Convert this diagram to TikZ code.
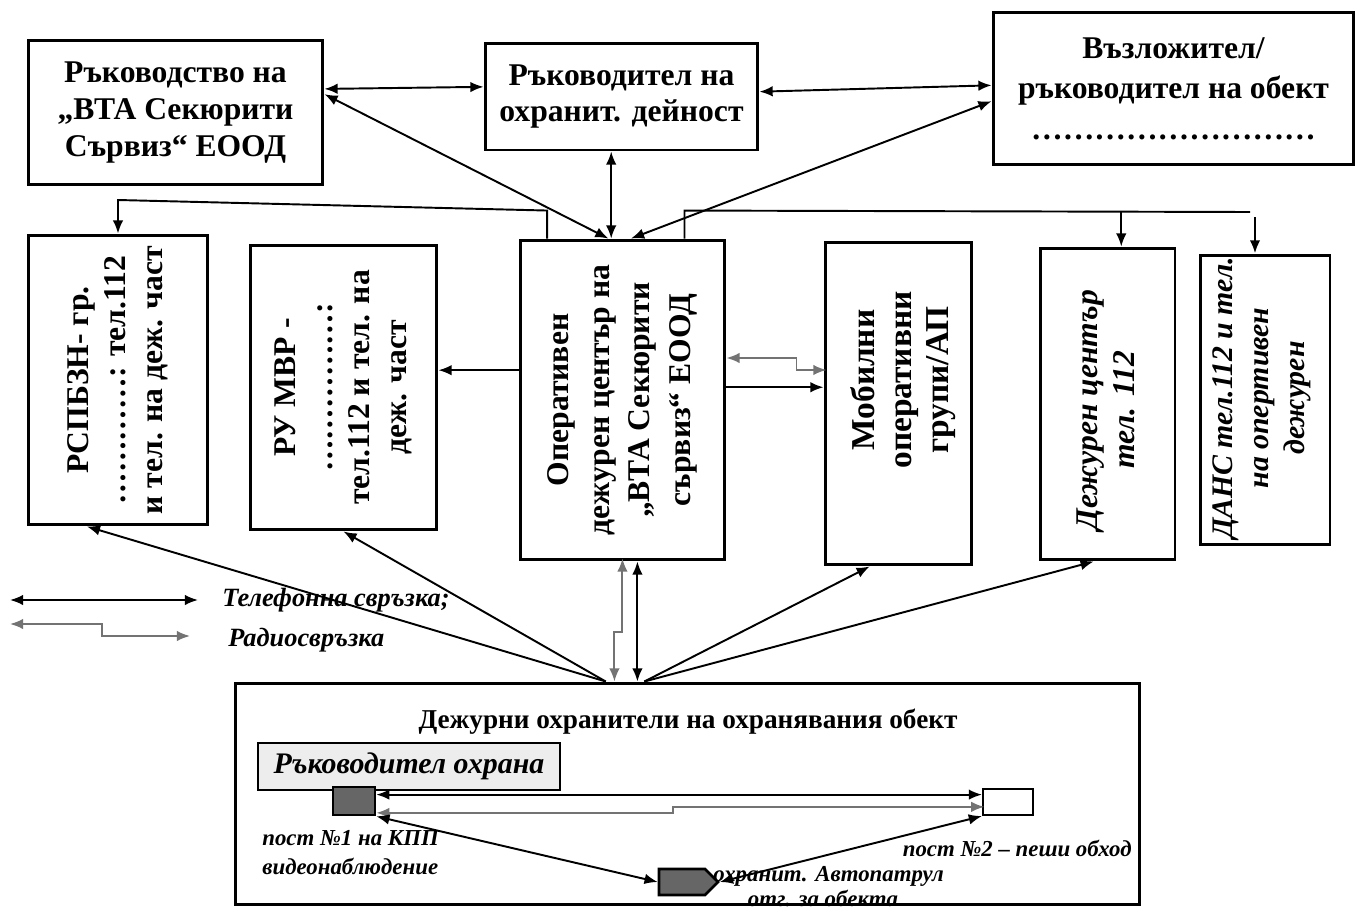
\documentclass[tikz,border=0pt]{standalone}
\usepackage{fontspec}
\setmainfont{Liberation Serif}
\usetikzlibrary{arrows.meta,shapes.symbols}
\tikzset{
  box/.style={draw=black,line width=1.7pt,inner sep=0pt,align=center},
  ttl/.style={font=\fontsize{18}{21}\selectfont\bfseries,align=center},
  ittl/.style={font=\fontsize{18}{21}\selectfont\bfseries\itshape,align=center},
  lgd/.style={font=\fontsize{15}{17}\selectfont\bfseries\itshape,inner sep=0pt},
  lbl/.style={font=\fontsize{13}{15}\selectfont\bfseries\itshape,inner sep=0pt},
  tel/.style={black,line width=1.1pt,{Latex[length=7.5pt,width=6pt]}-{Latex[length=7.5pt,width=6pt]}},
  tel1/.style={black,line width=1.1pt,-{Latex[length=7.5pt,width=6pt]}},
  radio/.style={black!55,line width=1.1pt,{Latex[length=7.5pt,width=6pt]}-{Latex[length=7.5pt,width=6pt]}}
}
\begin{document}
\begin{tikzpicture}[x=0.02cm,y=-0.02cm]
  \useasboundingbox (0,0) rectangle (1357,920);
  % top row
  \node[box,ttl,minimum width=5.9cm,minimum height=2.9cm] (rk) at (175.5,112.5) {Ръководство на\\„ВТА Секюрити\\Сървиз“ ЕООД};
  \node[box,ttl,minimum width=5.46cm,minimum height=2.14cm] (rod) at (621.5,96.5) {Ръководител на\\охранит. дейност};
  \node[box,ttl,font=\fontsize{18}{23}\selectfont\bfseries,minimum width=7.22cm,minimum height=3.06cm] (vz) at (1173.5,88.5) {Възложител/\\ръководител на обект\\………………………};
  % middle row
  \node[box,minimum width=3.6cm,minimum height=5.8cm] (rs) at (118,380) {};
  \node[ttl,rotate=90] (rst) at (rs) {РСПБЗН- гр.\\…………: тел.112\\и тел. на деж. част};
  \node[box,minimum width=3.74cm,minimum height=5.7cm] (ru) at (343.5,387.5) {};
  \node[ttl,rotate=90] (rut) at (ru) {РУ МВР -\\……………:\\тел.112 и тел. на\\деж. част};
  \node[box,minimum width=4.1cm,minimum height=6.4cm] (op) at (622.5,400) {};
  \node[ttl,rotate=90,font=\fontsize{18}{23}\selectfont\bfseries] (opt) at (op) {Оперативен\\дежурен център на\\„ВТА Секюрити\\сървиз“ ЕООД};
  \node[box,minimum width=2.94cm,minimum height=6.46cm] (mob) at (898.5,403.5) {};
  \node[ttl,rotate=90,font=\fontsize{19}{21}\selectfont\bfseries] (mobt) at (903,380) {Мобилни\\оперативни\\групи/АП};
  \node[box,minimum width=2.7cm,minimum height=6.24cm] (dc) at (1107.5,404) {};
  \node[ittl,rotate=90] (dct) at (1106,410) {Дежурен център\\тел. 112};
  \node[box,minimum width=2.6cm,minimum height=5.8cm] (dn) at (1265,400) {};
  \node[ittl,rotate=90,font=\fontsize{17}{20.5}\selectfont\bfseries\itshape] (dnt) at (1262,398) {ДАНС тел.112 и тел.\\на опертивен\\дежурен};
  % bottom
  \node[box,minimum width=18.1cm,minimum height=4.44cm] (G) at (687.5,794) {};
  \node[font=\fontsize{15.5}{18}\selectfont\bfseries] (gt) at (688,722) {Дежурни охранители на охранявания обект};
  \node[draw,line width=1.2pt,fill=black!7,minimum width=6.04cm,minimum height=0.94cm,font=\fontsize{17}{19}\selectfont\bfseries\itshape] (boss) at (409,766.5) {Ръководител охрана};
  \node[draw,line width=1.5pt,fill=black!60,inner sep=0pt,minimum width=0.84cm,minimum height=0.56cm] (p1) at (354,801) {};
  \node[draw,line width=1.2pt,inner sep=0pt,minimum width=1cm,minimum height=0.52cm] (p2) at (1008,802) {};
  \node[signal,signal to=east,draw,line width=1.5pt,fill=black!60,inner sep=0pt,minimum width=1.18cm,minimum height=0.52cm] (ap) at (682,882) {};
  \node[lbl,anchor=west] (l1) at (262,838) {пост №1 на КПП};
  \node[lbl,anchor=west] (l2) at (262,866) {видеонаблюдение};
  \node[lbl,anchor=east] (l3) at (1132,848) {пост №2 – пеши обход};
  \node[lbl,anchor=west] (l4) at (713,876) {охранит. Автопатрул};
  \node[lbl] (l5) at (823,898) {отг. за обекта};
  % legend
  \coordinate (la) at (10,600);
  \coordinate (lb) at (198,600);
  \coordinate (lc) at (10,624);
  \draw[tel] (la) -- (lb);
  \draw[radio] (lc) -- ++(92,0) -- ++(0,12) -- ++(88,0);
  \node[lgd,anchor=west] (lt) at (222,600) {Телефонна свръзка;};
  \node[lgd,anchor=west] (lr) at (228,640) {Радиосвръзка};
  % links
  \draw[tel] (rk.9) -- (rod.176);
  \draw[tel] (rod.2) -- (vz.179);
  \draw[tel] (op.95) -- (rk.7);
  \draw[tel] (op.94) -- (op.94 |- rod.south);
  \draw[tel] (op.87) -- (vz.184);
  \coordinate (lk) at (118,200);
  \coordinate (pk) at (1250,212);
  \coordinate (pk2) at (1255,217);
  \draw[tel1] (op.115) -- ++(0,-28) -- (lk) -- (rs.north);
  \draw[line width=1.1pt] (op.69) -- ++(0,-28) -- (pk);
  \draw[tel1] (dc.85 |- pk) -- (dc.85);
  \draw[tel1,line width=1.6pt] (pk2) -- (pk2 |- dn.north);
  \draw[tel1] (op.164) -- (op.164 -| ru.east);
  \draw[radio] (op.22) -- ++(70,0) -- ++(0,12) -- ++(30,0);
  \draw[tel1] (op.7) -- (op.7 -| mob.west);
  \draw[tel1] (G.126) -- (rs.258);
  \draw[tel1] (G.126) -- (ru.south);
  \draw[tel1] (G.111) -- (mob.260);
  \draw[tel1] (G.111) -- (dc.265);
  \draw[tel] (G.114) -- (G.114 |- op.south);
  \draw[radio] (G.123) -- ++(0,-50) -- ++(8,0) -- ++(0,-73);
  \draw[tel] (p1.16) -- (p1.16 -| p2.west);
  \draw[radio] (p1.332) -- ++(297,0) -- ++(0,-6) -- ++(311,0);
  \draw[tel] (p1.south east) -- (ap.west);
  \draw[tel] (ap.east) -- (p2.south west);
\end{tikzpicture}
\end{document}
